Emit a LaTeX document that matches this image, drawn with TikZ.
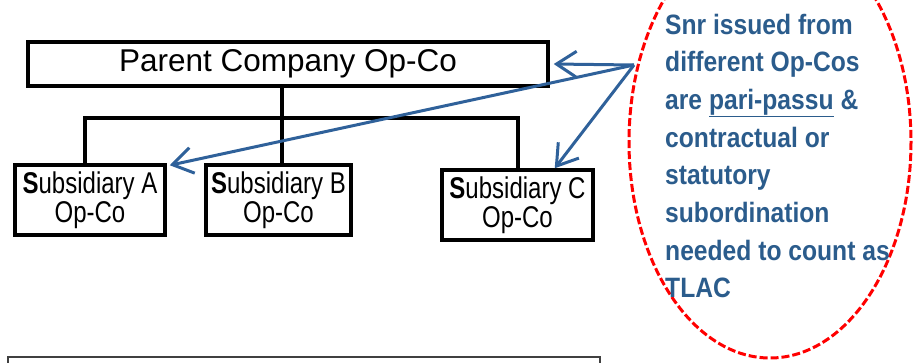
\documentclass[tikz,border=0pt]{standalone}
\usepackage{fontspec}
\setmainfont{Liberation Sans}
\newfontfamily\narrowfont[FakeStretch=0.8]{Liberation Sans}
\newfontfamily\notefont[FakeStretch=0.88]{Liberation Sans}
\usetikzlibrary{arrows.meta}
\definecolor{noteblue}{HTML}{2B5C8C}
\definecolor{arrowblue}{HTML}{2F619A}
\tikzset{
  orgbox/.style={draw=black, line width=3.5pt, inner sep=0pt, align=center},
  subbox/.style={orgbox, minimum height=70pt, font=\narrowfont\fontsize{30}{29}\selectfont},
  treeline/.style={draw=black, line width=4pt},
  callout/.style={draw=arrowblue, line width=3pt, -{Straight Barb[length=20pt,width=26pt,line width=3pt]}},
  notetext/.style={anchor=base west, text=noteblue, font=\notefont\fontsize{28}{30}\selectfont\bfseries, inner sep=0pt},
  redoval/.style={draw=red, line width=3pt, dash pattern=on 8pt off 3pt},
}
\begin{document}
\begin{tikzpicture}[x=1pt,y=-1pt]
\useasboundingbox (0,0) rectangle (913,362);
\clip (0,0) rectangle (913,362);
% parent
\node[orgbox, minimum width=520pt, minimum height=44pt, font=\fontsize{31.5}{36}\selectfont] (parent) at (288,64) {Parent Company Op-Co};
% subsidiaries
\node[subbox, minimum width=150pt] (subA) at (90,200) {{\bfseries S}ubsidiary A\\Op-Co};
\node[subbox, minimum width=145pt] (subB) at (278.5,200) {{\bfseries S}ubsidiary B\\Op-Co};
\node[subbox, minimum width=151pt] (subC) at (517.5,205) {{\bfseries S}ubsidiary C\\Op-Co};
% tree
\coordinate (bar) at (282,118);
\draw[treeline] (parent.south -| bar) -- (bar);
\draw[treeline, line cap=rect] (subA.north -| 85,0) |- (bar) -| (subC.north -| 518,0);
\draw[treeline] (bar) -- (subB.north -| bar);
% red oval
\draw[redoval] (770,142) ellipse [x radius=141, y radius=216];
% note text
\node[notetext] (n1) at (665,34) {Snr issued from};
\node[notetext] (n2) at (665,71.7) {different Op-Cos};
\node[notetext] (n3) at (665,109.4) {are \underline{pari-passu} \&};
\node[notetext] (n4) at (665,147.1) {contractual or};
\node[notetext] (n5) at (665,184.8) {statutory};
\node[notetext] (n6) at (665,222.5) {subordination};
\node[notetext] (n7) at (665,260.2) {needed to count as};
\node[notetext] (n8) at (665,297.9) {TLAC};
% arrows
\coordinate (src) at (634,65);
\draw[callout] (src) -- ([xshift=4pt]parent.east);
\draw[callout] (src) -- ([xshift=3pt,yshift=-2pt]subA.north east);
\draw[callout] (src) -- ([xshift=-40pt]subC.north east);
% bottom box (cut off)
\node[draw=black!75, line width=1.5pt, minimum width=592pt, minimum height=30pt, inner sep=0pt] (bottom) at (304,372) {};
\end{tikzpicture}
\end{document}
